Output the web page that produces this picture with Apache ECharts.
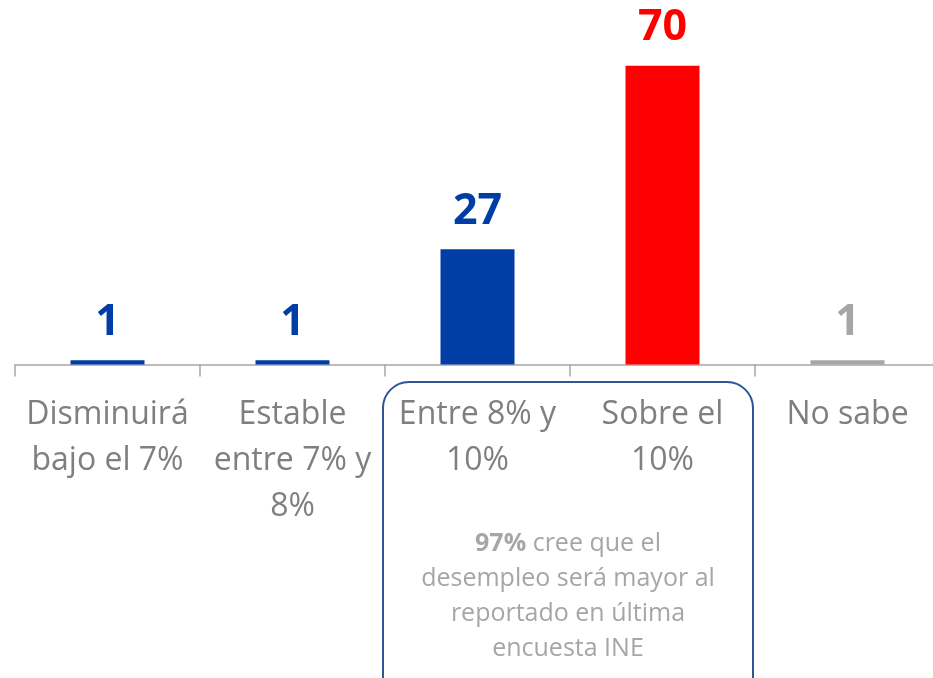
<!DOCTYPE html>
<html>
<head>
<meta charset="utf-8">
<script src="https://cdn.jsdelivr.net/npm/echarts@6/dist/echarts.min.js"></script>
<style>
  html, body { margin: 0; padding: 0; background: #fff; overflow: hidden; }
  /* el eje sigue un poco mas alla del borde derecho */
  #chart { width: 940px; height: 678px; }
</style>
</head>
<body>
<div id="chart"></div>
<script>
// categorias del eje x
const categories = ['Disminuirá\nbajo el 7%', 'Estable\nentre 7% y\n8%', 'Entre 8% y\n10%', 'Sobre el\n10%', 'No sabe']
// porcentaje de respuestas
const values = [1, 1, 27, 70, 1]
// colores de cada barra
const barColors = ['#003DA5', '#003DA5', '#003DA5', '#FF0000', '#A6A6A6']
const noteLines = ['{b|97%} cree que el', 'desempleo será mayor al', 'reportado en última', 'encuesta INE']

const chart = echarts.init(document.getElementById('chart'))

const option = {
  backgroundColor: '#fff',
  animation: false,
  grid: {
    left: 15,
    right: 0,
    top: 23,
    bottom: 313.5
  },
  xAxis: {
    type: 'category',
    data: categories,
    axisLine: { lineStyle: { color: '#A6A6A6', width: 1.5 } },
    axisTick: { show: true, length: 12, lineStyle: { color: '#A6A6A6', width: 1.5 } },
    axisLabel: {
      interval: 0,
      margin: 27,
      color: '#7F7F7F',
      fontFamily: 'Open Sans',
      fontSize: 32,
      lineHeight: 46
    }
  },
  yAxis: {
    type: 'value',
    min: 0,
    max: 80,
    show: false,
    splitLine: { show: false }
  },
  series: [{
    type: 'bar',
    barWidth: 74,
    data: values.map((v, i) => ({
      value: v,
      itemStyle: { color: barColors[i] },
      label: { color: barColors[i] }
    })),
    label: {
      show: true,
      position: 'top',
      distance: 16,
      fontFamily: 'Open Sans',
      fontWeight: 'bold',
      fontSize: 43
    }
  }],
  graphic: [
    {
      type: 'rect',
      shape: { x: 383, y: 382, width: 370, height: 330, r: 26 },
      style: { fill: 'none', stroke: '#2F5597', lineWidth: 2 }
    },
    {
      type: 'text',
      x: 568,
      y: 526,
      style: {
        text: noteLines.join('\n'),
        align: 'center',
        verticalAlign: 'top',
        fill: '#A6A6A6',
        fontFamily: 'Open Sans',
        fontSize: 25,
        lineHeight: 35,
        rich: {
          b: { fontWeight: 'bold', fontFamily: 'Open Sans', fontSize: 25, lineHeight: 35, fill: '#A6A6A6' }
        }
      }
    }
  ]
}

chart.setOption(option)
</script>
</body>
</html>
